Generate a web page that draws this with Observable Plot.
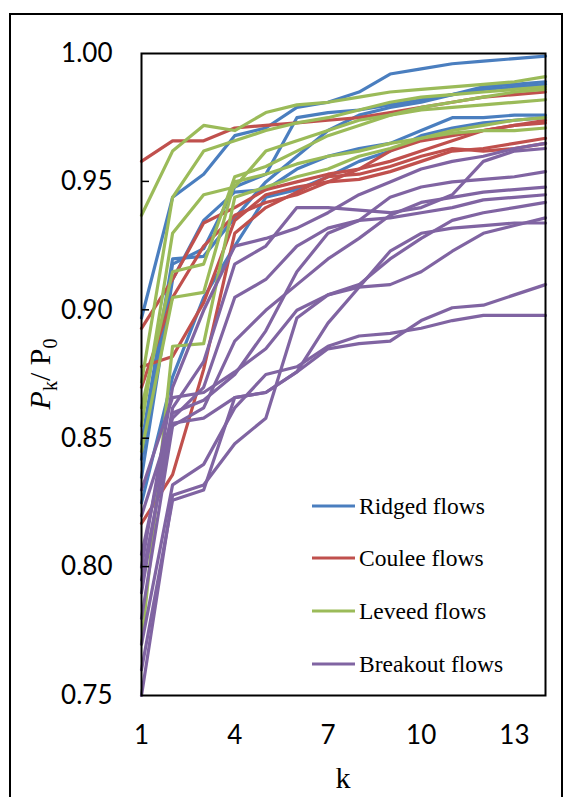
<!DOCTYPE html>
<html>
<head>
<meta charset="utf-8">
<script src="https://cdn.jsdelivr.net/npm/d3@7"></script>
<script src="https://cdn.jsdelivr.net/npm/@observablehq/plot@0.6"></script>
<style>
  html, body { margin: 0; padding: 0; background: #fff; }
  #chart svg { display: block; }
</style>
</head>
<body>
<div id="chart"></div>
<script>
// k values (x axis)
const kValues = [1,2,3,4,5,6,7,8,9,10,11,12,13,14];
const xTicks = [1,4,7,10,13];
const yTicks = [0.75,0.80,0.85,0.90,0.95,1.00];

const groups = ["Ridged flows","Coulee flows","Leveed flows","Breakout flows"];
const colors = ["#4a7ebf","#c0504d","#9bbb59","#8064a2"];

// Ridged flows (blue)
const ridged = [
  [0.897,0.944,0.953,0.968,0.971,0.979,0.981,0.985,0.992,0.994,0.996,0.997,0.998,0.999],
  [0.848,0.920,0.921,0.936,0.950,0.960,0.970,0.976,0.979,0.981,0.984,0.987,0.988,0.989],
  [0.835,0.912,0.935,0.946,0.947,0.955,0.960,0.963,0.965,0.970,0.975,0.975,0.976,0.976],
  [0.825,0.874,0.905,0.925,0.944,0.947,0.952,0.958,0.962,0.968,0.971,0.973,0.974,0.975],
  [0.842,0.918,0.924,0.948,0.953,0.975,0.977,0.978,0.980,0.982,0.984,0.986,0.987,0.988]
];
// Coulee flows (red)
const coulee = [
  [0.958,0.966,0.966,0.971,0.972,0.973,0.974,0.975,0.977,0.979,0.981,0.983,0.984,0.985],
  [0.893,0.912,0.934,0.940,0.947,0.950,0.953,0.955,0.958,0.962,0.966,0.970,0.972,0.974],
  [0.878,0.882,0.903,0.935,0.945,0.948,0.950,0.951,0.954,0.958,0.962,0.963,0.965,0.967],
  [0.817,0.836,0.877,0.930,0.940,0.946,0.952,0.953,0.956,0.960,0.963,0.962,0.963,0.965],
  [0.870,0.905,0.925,0.937,0.942,0.945,0.950,0.955,0.962,0.966,0.968,0.970,0.972,0.973]
];
// Leveed flows (green)
const leveed = [
  [0.937,0.962,0.972,0.970,0.977,0.980,0.981,0.983,0.985,0.986,0.987,0.988,0.989,0.991],
  [0.872,0.944,0.962,0.966,0.970,0.973,0.975,0.978,0.981,0.983,0.984,0.985,0.986,0.987],
  [0.862,0.915,0.918,0.952,0.956,0.962,0.968,0.972,0.976,0.979,0.981,0.983,0.985,0.986],
  [0.845,0.905,0.907,0.950,0.953,0.957,0.960,0.962,0.965,0.967,0.969,0.970,0.970,0.971],
  [0.770,0.886,0.887,0.944,0.948,0.952,0.955,0.960,0.963,0.967,0.970,0.972,0.974,0.975],
  [0.855,0.930,0.945,0.948,0.962,0.966,0.970,0.974,0.976,0.978,0.979,0.980,0.981,0.982]
];
// Breakout flows (purple)
const breakout = [
  [0.800,0.870,0.900,0.925,0.928,0.932,0.938,0.945,0.950,0.955,0.958,0.960,0.963,0.965],
  [0.790,0.862,0.880,0.918,0.925,0.940,0.940,0.939,0.938,0.940,0.945,0.958,0.962,0.963],
  [0.820,0.858,0.870,0.905,0.912,0.925,0.932,0.935,0.944,0.948,0.950,0.951,0.952,0.954],
  [0.780,0.855,0.862,0.888,0.900,0.910,0.920,0.928,0.937,0.942,0.944,0.946,0.947,0.948],
  [0.805,0.860,0.865,0.875,0.892,0.915,0.930,0.935,0.936,0.938,0.940,0.943,0.944,0.945],
  [0.830,0.866,0.868,0.876,0.885,0.900,0.906,0.910,0.920,0.928,0.935,0.938,0.940,0.942],
  [0.795,0.856,0.858,0.866,0.868,0.876,0.895,0.909,0.910,0.915,0.923,0.930,0.933,0.936],
  [0.750,0.828,0.832,0.848,0.858,0.897,0.906,0.909,0.923,0.930,0.932,0.933,0.934,0.934],
  [0.760,0.826,0.830,0.866,0.868,0.876,0.885,0.887,0.888,0.896,0.901,0.902,0.906,0.910],
  [0.770,0.832,0.840,0.862,0.875,0.878,0.886,0.890,0.891,0.893,0.896,0.898,0.898,0.898]
];

const seriesSets = [ridged, coulee, leveed, breakout];
const rows = [];
seriesSets.forEach((set, gi) => {
  set.forEach((vals, si) => {
    vals.forEach((v, i) => rows.push({group: groups[gi], id: gi + "-" + si, k: kValues[i], v}));
  });
});

const W = 571, H = 797;
const chart = Plot.plot({
  width: W,
  height: H,
  marginLeft: 141,
  marginRight: 26,
  marginTop: 53,
  marginBottom: 102,
  style: {fontFamily: "Lato, sans-serif", fontSize: "26px", color: "#000", background: "#fff"},
  x: {domain: [1, 14], ticks: xTicks, label: null},
  y: {domain: [0.75, 1.0], ticks: yTicks, label: null},
  color: {domain: groups, range: colors},
  marks: [
    Plot.line(rows, {x: "k", y: "v", z: "id", stroke: "group", strokeWidth: 3.2, strokeLinejoin: "round", curve: "linear"}),
    Plot.axisX({ticks: xTicks, tickSize: 0, tickPadding: 30, tickFormat: d => String(d), fontSize: 26, label: null}),
    Plot.axisY({ticks: yTicks, tickSize: 0, tickPadding: 29, tickFormat: d3.format(".2f"), fontSize: 26, label: null}),
    Plot.frame({stroke: "#000", strokeWidth: 2})
  ]
});

document.getElementById("chart").appendChild(chart);

const svg = d3.select(chart);
const ys = chart.scale("y");
const xs = chart.scale("x");
const left = xs.apply(1), right = xs.apply(14);

// inward tick marks on the left axis
svg.append("g").selectAll("line").data(yTicks.slice(1, -1)).join("line")
  .attr("x1", left).attr("x2", left + 8)
  .attr("y1", d => ys.apply(d)).attr("y2", d => ys.apply(d))
  .attr("stroke", "#000").attr("stroke-width", 1.5);

// outer figure border
svg.append("path")
  .attr("d", `M10,${H + 5}V14H562V${H + 5}`)
  .attr("fill", "none").attr("stroke", "#000").attr("stroke-width", 2);

// y axis title: P_k / P_0
const yt = svg.append("text")
  .attr("transform", `translate(50,${(ys.apply(0.75) + ys.apply(1.0)) / 2}) rotate(-90)`)
  .attr("text-anchor", "middle")
  .attr("font-family", "'Liberation Serif', serif")
  .attr("font-size", 30)
  .attr("fill", "#000");
yt.append("tspan").attr("font-style", "italic").text("P");
yt.append("tspan").attr("font-size", 20).attr("dy", 7).text("k");
yt.append("tspan").attr("dy", -7).text("/ P");
yt.append("tspan").attr("font-size", 20).attr("dy", 7).text("0");

// x axis title
svg.append("text")
  .attr("x", (left + right) / 2).attr("y", 788)
  .attr("text-anchor", "middle")
  .attr("font-family", "'Liberation Serif', serif")
  .attr("font-size", 30).attr("fill", "#000")
  .text("k");

// legend
const legend = svg.append("g").attr("text-anchor", "start");
const legY = [506, 558, 611, 664];
groups.forEach((g, i) => {
  legend.append("line").attr("x1", 312).attr("x2", 355).attr("y1", legY[i]).attr("y2", legY[i])
    .attr("stroke", colors[i]).attr("stroke-width", 3.2);
  legend.append("text").attr("x", 359).attr("y", legY[i]).attr("dy", "0.33em")
    .attr("text-anchor", "start")
    .attr("font-family", "'Liberation Serif', serif").attr("font-size", 23.5).attr("fill", "#000")
    .text(g);
});
</script>
</body>
</html>
